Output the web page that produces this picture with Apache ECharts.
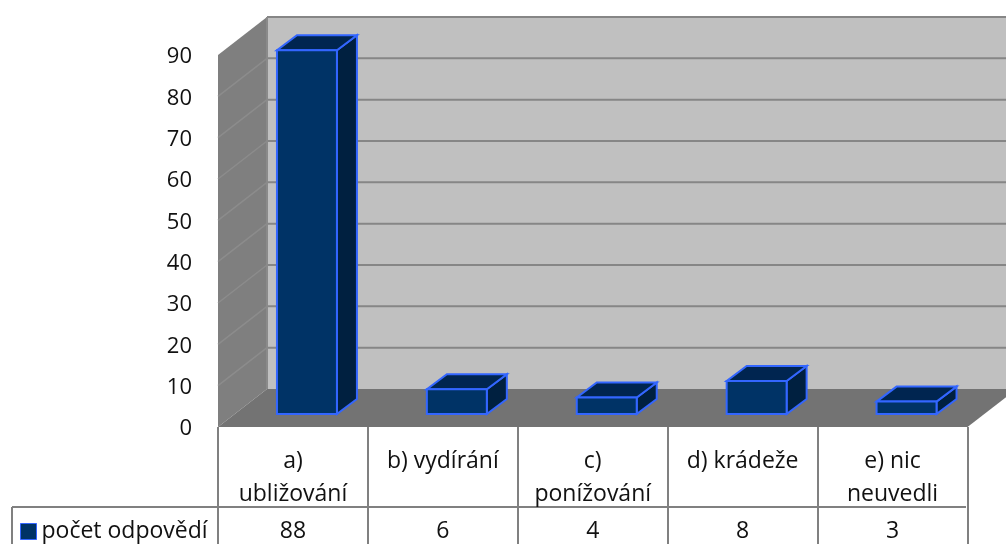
<!DOCTYPE html>
<html><head><meta charset="utf-8">
<style>html,body{margin:0;padding:0;background:#fff}#c{width:1006px;height:544px}</style>
<script src="https://cdn.jsdelivr.net/npm/echarts@6/dist/echarts.min.js"></script>
</head><body><div id="c"></div>
<script>
const categories = ['a)\nubližování', 'b) vydírání', 'c)\nponížování', 'd) krádeže', 'e) nic\nneuvedli'];
const seriesName = 'počet odpovědí';
const values = [88, 6, 4, 8, 3];
const yTicks = [0, 10, 20, 30, 40, 50, 60, 70, 80, 90];

const FONT = '"Open Sans", "Noto Sans", sans-serif';
const WALL = [49, -38], BAR_DEPTH = [20, -15], BAR_FRONT = [14, -13];

const chart = echarts.init(document.getElementById('c'), null, {renderer: 'canvas'});

function poly(points, fill, stroke, lw, z2) {
  return {type: 'polygon', z2: z2 || 0, shape: {points},
    style: {fill, stroke: stroke || null, lineWidth: lw || 0, lineJoin: 'miter'}};
}
function line(a, b, stroke, lw, z2) {
  return {type: 'line', z2: z2 || 1, shape: {x1: a[0], y1: a[1], x2: b[0], y2: b[1]},
    style: {stroke, lineWidth: lw}};
}
const shift = (p, d) => [p[0] + d[0], p[1] + d[1]];

function renderWalls(params, api) {
  const v = api.value(1);
  const bandAll = api.coord([0, 0])[0] - api.size([1, 0])[0] / 2;
  const left = bandAll, right = bandAll + api.size([1, 0])[0] * 5;
  const y = api.coord([0, v])[1];
  const y0 = api.coord([0, yTicks[0]])[1];
  const yTop = api.coord([0, yTicks[yTicks.length - 1]])[1];
  const children = [];
  if (v === yTicks[0]) {
    const fl = [left, y0], fr = [right, y0], tl = [left, yTop], tr = [right, yTop];
    children.push(poly([shift(fl, WALL), shift(fr, WALL), shift(tr, WALL), shift(tl, WALL)], '#c0c0c0'));
    children.push(poly([fl, tl, shift(tl, WALL), shift(fl, WALL)], '#7f7f7f'));
    children.push(poly([fl, fr, shift(fr, WALL), shift(fl, WALL)], '#737373'));
    children.push(line(shift(fl, WALL), shift(tl, WALL), '#8a8a8a', 2, 2));
  } else {
    const a = [left, y];
    const isTop = v === yTicks[yTicks.length - 1];
    if (!isTop) children.push(line(a, shift(a, WALL), '#8c8c8c', 1.5));
    children.push(line(shift(a, WALL), [right + WALL[0], y + WALL[1]], '#868686', 2));
  }
  return {type: 'group', children};
}

function renderBar(params, api) {
  const i = api.value(0), v = api.value(1);
  const band = api.size([1, 0])[0];
  const w = band * 0.4;
  const top = api.coord([i, v]), base = api.coord([i, 0]);
  const x0 = top[0] + BAR_FRONT[0] - w / 2, x1 = x0 + w;
  const yT = top[1] + BAR_FRONT[1], yB = base[1] + BAR_FRONT[1];
  const stroke = '#3366ff';
  const tl = [x0, yT], tr = [x1, yT], bl = [x0, yB], br = [x1, yB];
  return {type: 'group', children: [
    poly([tr, br, shift(br, BAR_DEPTH), shift(tr, BAR_DEPTH)], '#002040', stroke, 2),
    poly([tl, tr, shift(tr, BAR_DEPTH), shift(tl, BAR_DEPTH)], '#002550', stroke, 2),
    poly([tl, tr, br, bl], '#003366', stroke, 2)
  ]};
}

const tableColor = '#808080';
chart.setOption({
  animation: false,
  backgroundColor: '#fff',
  grid: {left: 218, top: 55, width: 749.5, height: 372, containLabel: false, outerBoundsMode: 'none'},
  legend: {
    data: [{name: seriesName, icon: 'rect',
      itemStyle: {color: '#003366', borderColor: '#3366ff', borderWidth: 1}}],
    left: 20, top: 520, itemWidth: 16, itemHeight: 16, itemGap: 5,
    textStyle: {fontFamily: FONT, fontSize: 23, color: '#111'},
    padding: 0, selectedMode: false
  },
  xAxis: [{
    type: 'category', data: categories, position: 'bottom',
    axisLine: {show: false},
    axisTick: {show: true, length: 117, alignWithLabel: false, lineStyle: {color: tableColor, width: 2}},
    axisLabel: {interval: 0, margin: 18, verticalAlign: 'top', lineHeight: 33,
      fontFamily: FONT, fontSize: 23, color: '#111'}
  }, {
    type: 'category', data: values.map(String), position: 'bottom', offset: 91,
    axisLine: {show: false}, axisTick: {show: false},
    axisLabel: {interval: 0, margin: 0, verticalAlign: 'top', lineHeight: 26,
      fontFamily: FONT, fontSize: 23, color: '#111'}
  }],
  yAxis: {
    type: 'value', min: 0, max: 90, interval: 10,
    axisLine: {show: false}, axisTick: {show: false}, splitLine: {show: false},
    axisLabel: {margin: 26, verticalAlign: 'top', lineHeight: 4, fontFamily: FONT, fontSize: 22, color: '#111'}
  },
  graphic: [
    {type: 'line', shape: {x1: 12, y1: 507, x2: 966, y2: 507}, style: {stroke: tableColor, lineWidth: 2}},
    {type: 'line', shape: {x1: 12, y1: 507, x2: 12, y2: 544}, style: {stroke: tableColor, lineWidth: 2}}
  ],
  series: [{
    type: 'custom', name: 'walls', renderItem: renderWalls, silent: true, z: 1,
    encode: {x: 0, y: 1}, data: yTicks.map(v => [0, v]), clip: false
  }, {
    type: 'custom', name: seriesName, renderItem: renderBar, z: 2,
    encode: {x: 0, y: 1}, data: values.map((v, i) => [i, v]), clip: false,
    itemStyle: {color: '#003366'}
  }]
});
</script></body></html>
